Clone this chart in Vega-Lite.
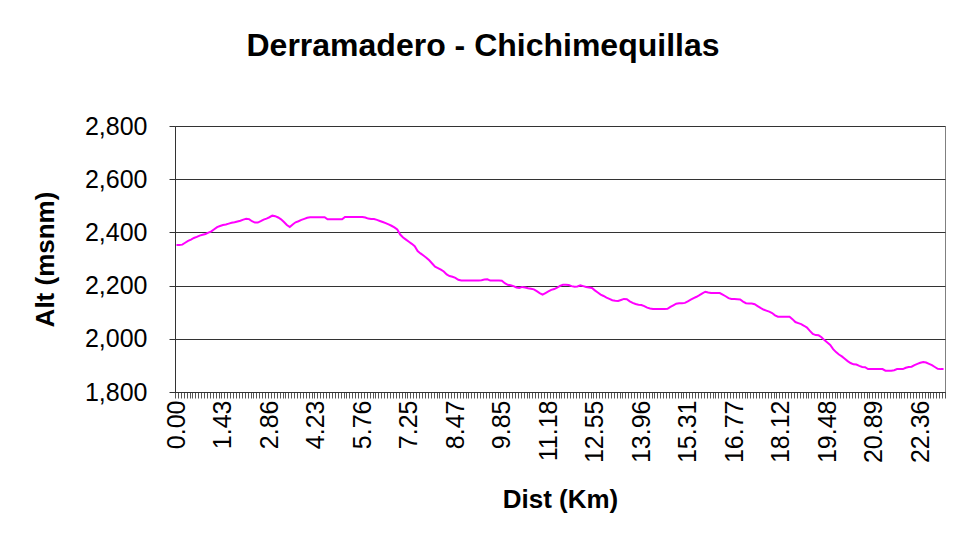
{
  "$schema": "https://vega.github.io/schema/vega-lite/v6.json",
  "width": 770,
  "height": 266,
  "autosize": {"type": "none"},
  "padding": {"left": 175, "top": 126, "right": 19, "bottom": 154},
  "background": "white",
  "title": {"text": "Derramadero - Chichimequillas", "font": "Liberation Sans", "fontSize": 32, "fontWeight": "bold", "color": "black", "anchor": "middle", "offset": 51, "dx": -77},
  "data": {"values": [
    {"d":"0.00","alt":2353},{"d":"0.09","alt":2353},{"d":"0.18","alt":2354},{"d":"0.27","alt":2361},{"d":"0.36","alt":2368},{"d":"0.45","alt":2373},{"d":"0.54","alt":2379},{"d":"0.63","alt":2383},{"d":"0.71","alt":2388},{"d":"0.80","alt":2391},{"d":"0.89","alt":2394},{"d":"0.98","alt":2399},{"d":"1.07","alt":2404},{"d":"1.16","alt":2412},{"d":"1.25","alt":2420},{"d":"1.34","alt":2424},
    {"d":"1.43","alt":2428},{"d":"1.52","alt":2430},{"d":"1.61","alt":2433},{"d":"1.70","alt":2436},{"d":"1.79","alt":2438},{"d":"1.88","alt":2441},{"d":"1.97","alt":2444},{"d":"2.05","alt":2448},{"d":"2.14","alt":2451},{"d":"2.23","alt":2450},{"d":"2.32","alt":2442},{"d":"2.41","alt":2437},{"d":"2.50","alt":2437},{"d":"2.59","alt":2442},{"d":"2.68","alt":2448},{"d":"2.77","alt":2452},
    {"d":"2.86","alt":2457},{"d":"2.95","alt":2463},{"d":"3.03","alt":2461},{"d":"3.12","alt":2456},{"d":"3.20","alt":2449},{"d":"3.29","alt":2439},{"d":"3.37","alt":2428},{"d":"3.46","alt":2420},{"d":"3.54","alt":2430},{"d":"3.63","alt":2438},{"d":"3.72","alt":2442},{"d":"3.80","alt":2447},{"d":"3.89","alt":2451},{"d":"3.97","alt":2455},{"d":"4.06","alt":2457},{"d":"4.14","alt":2457},
    {"d":"4.23","alt":2457},{"d":"4.33","alt":2457},{"d":"4.42","alt":2457},{"d":"4.52","alt":2457},{"d":"4.61","alt":2449},{"d":"4.71","alt":2449},{"d":"4.80","alt":2449},{"d":"4.90","alt":2449},{"d":"4.99","alt":2449},{"d":"5.09","alt":2449},{"d":"5.19","alt":2458},{"d":"5.28","alt":2458},{"d":"5.38","alt":2458},{"d":"5.47","alt":2458},{"d":"5.57","alt":2458},{"d":"5.66","alt":2458},
    {"d":"5.76","alt":2458},{"d":"5.85","alt":2456},{"d":"5.95","alt":2452},{"d":"6.04","alt":2450},{"d":"6.13","alt":2450},{"d":"6.23","alt":2447},{"d":"6.32","alt":2443},{"d":"6.41","alt":2439},{"d":"6.50","alt":2435},{"d":"6.60","alt":2430},{"d":"6.69","alt":2425},{"d":"6.78","alt":2419},{"d":"6.88","alt":2411},{"d":"6.97","alt":2392},{"d":"7.06","alt":2381},{"d":"7.16","alt":2373},
    {"d":"7.25","alt":2365},{"d":"7.33","alt":2357},{"d":"7.40","alt":2348},{"d":"7.48","alt":2330},{"d":"7.56","alt":2321},{"d":"7.63","alt":2313},{"d":"7.71","alt":2305},{"d":"7.78","alt":2295},{"d":"7.86","alt":2283},{"d":"7.94","alt":2271},{"d":"8.01","alt":2266},{"d":"8.09","alt":2260},{"d":"8.17","alt":2253},{"d":"8.24","alt":2242},{"d":"8.32","alt":2236},{"d":"8.39","alt":2233},
    {"d":"8.47","alt":2229},{"d":"8.56","alt":2222},{"d":"8.64","alt":2219},{"d":"8.73","alt":2219},{"d":"8.82","alt":2219},{"d":"8.90","alt":2219},{"d":"8.99","alt":2219},{"d":"9.07","alt":2219},{"d":"9.16","alt":2219},{"d":"9.25","alt":2220},{"d":"9.33","alt":2223},{"d":"9.42","alt":2224},{"d":"9.51","alt":2219},{"d":"9.59","alt":2219},{"d":"9.68","alt":2219},{"d":"9.76","alt":2219},
    {"d":"9.85","alt":2218},{"d":"9.93","alt":2209},{"d":"10.02","alt":2203},{"d":"10.10","alt":2201},{"d":"10.18","alt":2198},{"d":"10.27","alt":2193},{"d":"10.35","alt":2191},{"d":"10.43","alt":2195},{"d":"10.52","alt":2193},{"d":"10.60","alt":2190},{"d":"10.68","alt":2188},{"d":"10.76","alt":2186},{"d":"10.85","alt":2179},{"d":"10.93","alt":2172},{"d":"11.01","alt":2166},{"d":"11.10","alt":2172},
    {"d":"11.18","alt":2178},{"d":"11.27","alt":2184},{"d":"11.35","alt":2187},{"d":"11.44","alt":2192},{"d":"11.52","alt":2199},{"d":"11.61","alt":2203},{"d":"11.69","alt":2203},{"d":"11.78","alt":2202},{"d":"11.86","alt":2198},{"d":"11.95","alt":2196},{"d":"12.04","alt":2197},{"d":"12.12","alt":2201},{"d":"12.21","alt":2198},{"d":"12.29","alt":2195},{"d":"12.38","alt":2193},{"d":"12.46","alt":2191},
    {"d":"12.55","alt":2182},{"d":"12.64","alt":2174},{"d":"12.73","alt":2166},{"d":"12.81","alt":2161},{"d":"12.90","alt":2155},{"d":"12.99","alt":2150},{"d":"13.08","alt":2145},{"d":"13.17","alt":2143},{"d":"13.25","alt":2142},{"d":"13.34","alt":2146},{"d":"13.43","alt":2150},{"d":"13.52","alt":2149},{"d":"13.61","alt":2141},{"d":"13.70","alt":2135},{"d":"13.78","alt":2131},{"d":"13.87","alt":2128},
    {"d":"13.96","alt":2127},{"d":"14.04","alt":2123},{"d":"14.13","alt":2117},{"d":"14.21","alt":2114},{"d":"14.30","alt":2112},{"d":"14.38","alt":2112},{"d":"14.47","alt":2112},{"d":"14.55","alt":2112},{"d":"14.64","alt":2112},{"d":"14.72","alt":2113},{"d":"14.80","alt":2120},{"d":"14.89","alt":2126},{"d":"14.97","alt":2132},{"d":"15.06","alt":2134},{"d":"15.14","alt":2134},{"d":"15.23","alt":2135},
    {"d":"15.31","alt":2141},{"d":"15.40","alt":2147},{"d":"15.49","alt":2153},{"d":"15.58","alt":2158},{"d":"15.68","alt":2164},{"d":"15.77","alt":2171},{"d":"15.86","alt":2177},{"d":"15.95","alt":2174},{"d":"16.04","alt":2172},{"d":"16.13","alt":2172},{"d":"16.22","alt":2172},{"d":"16.31","alt":2172},{"d":"16.41","alt":2166},{"d":"16.50","alt":2160},{"d":"16.59","alt":2153},{"d":"16.68","alt":2150},
    {"d":"16.77","alt":2150},{"d":"16.85","alt":2149},{"d":"16.94","alt":2148},{"d":"17.02","alt":2140},{"d":"17.11","alt":2134},{"d":"17.19","alt":2133},{"d":"17.28","alt":2133},{"d":"17.36","alt":2130},{"d":"17.45","alt":2123},{"d":"17.53","alt":2116},{"d":"17.61","alt":2110},{"d":"17.70","alt":2106},{"d":"17.78","alt":2102},{"d":"17.87","alt":2097},{"d":"17.95","alt":2088},{"d":"18.04","alt":2083},
    {"d":"18.12","alt":2083},{"d":"18.21","alt":2083},{"d":"18.29","alt":2083},{"d":"18.38","alt":2083},{"d":"18.46","alt":2074},{"d":"18.55","alt":2063},{"d":"18.63","alt":2059},{"d":"18.72","alt":2055},{"d":"18.80","alt":2049},{"d":"18.89","alt":2042},{"d":"18.97","alt":2030},{"d":"19.06","alt":2018},{"d":"19.14","alt":2014},{"d":"19.23","alt":2013},{"d":"19.31","alt":2006},{"d":"19.40","alt":1995},
    {"d":"19.48","alt":1986},{"d":"19.57","alt":1977},{"d":"19.66","alt":1961},{"d":"19.74","alt":1950},{"d":"19.83","alt":1941},{"d":"19.92","alt":1934},{"d":"20.01","alt":1925},{"d":"20.10","alt":1916},{"d":"20.18","alt":1909},{"d":"20.27","alt":1904},{"d":"20.36","alt":1903},{"d":"20.45","alt":1898},{"d":"20.54","alt":1894},{"d":"20.63","alt":1893},{"d":"20.71","alt":1886},{"d":"20.80","alt":1886},
    {"d":"20.89","alt":1886},{"d":"20.98","alt":1886},{"d":"21.07","alt":1886},{"d":"21.17","alt":1886},{"d":"21.26","alt":1880},{"d":"21.35","alt":1880},{"d":"21.44","alt":1880},{"d":"21.53","alt":1882},{"d":"21.63","alt":1886},{"d":"21.72","alt":1886},{"d":"21.81","alt":1886},{"d":"21.90","alt":1891},{"d":"21.99","alt":1894},{"d":"22.08","alt":1895},{"d":"22.18","alt":1901},{"d":"22.27","alt":1906},
    {"d":"22.36","alt":1910},{"d":"22.45","alt":1913},{"d":"22.54","alt":1911},{"d":"22.63","alt":1906},{"d":"22.72","alt":1901},{"d":"22.81","alt":1894},{"d":"22.90","alt":1887},{"d":"22.99","alt":1886},{"d":"23.08","alt":1886}
  ]},
  "mark": {"type": "line", "color": "#FF00FF", "strokeWidth": 2},
  "encoding": {
    "x": {
      "field": "d", "type": "ordinal", "sort": null,
      "scale": {"type": "band", "paddingInner": 0, "paddingOuter": 0},
      "axis": {
        "title": "Dist (Km)",
        "labelAngle": -90, "labelAlign": "right", "labelBaseline": "middle",
        "labelExpr": "indexof(['0.00','1.43','2.86','4.23','5.76','7.25','8.47','9.85','11.18','12.55','13.96','15.31','16.77','18.12','19.48','20.89','22.36'], datum.value) >= 0 ? datum.value : ''",
        "labelOverlap": false, "labelFontSize": 25, "labelPadding": 2,
        "tickSize": 6, "tickColor": "#555555", "tickBand": "extent",
        "domainColor": "#333333",
        "titleFontSize": 26, "titlePadding": 24
      }
    },
    "y": {
      "field": "alt", "type": "quantitative",
      "scale": {"domain": [1800, 2800], "nice": false, "zero": false},
      "axis": {
        "title": "Alt (msnm)", "values": [1800, 2000, 2200, 2400, 2600, 2800], "format": ",.0f",
        "grid": true, "gridColor": "#333333", "gridWidth": 1,
        "labelFontSize": 25, "labelPadding": 22,
        "tickSize": 6, "tickColor": "#333333", "domainColor": "#333333",
        "titleFontSize": 26, "titlePadding": 26
      }
    }
  },
  "config": {
    "view": {"stroke": "#808080", "strokeWidth": 1},
    "axis": {"labelFont": "Liberation Sans", "titleFont": "Liberation Sans", "labelColor": "black", "titleColor": "black", "titleFontWeight": "bold"}
  }
}
